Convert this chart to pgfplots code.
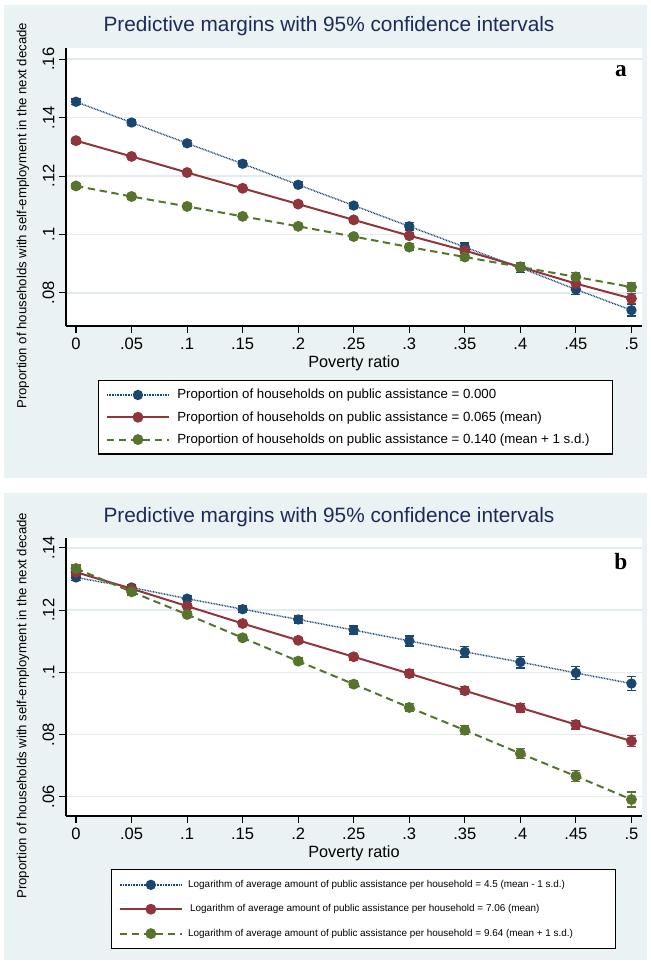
\documentclass[border=0pt]{standalone}
\usepackage{pgfplots}
\pgfplotsset{compat=1.18}
\usepackage{pgfplotstable}
\usepackage{fontspec}
\setmainfont{Liberation Sans}
\newfontfamily\serifbf{Liberation Serif}
\definecolor{bgc}{HTML}{EAF2F3}
\definecolor{gridc}{HTML}{E2EBED}
\definecolor{titlec}{HTML}{1C2B5A}
\definecolor{snavy}{HTML}{1A476F}
\definecolor{smaroon}{HTML}{90353B}
\definecolor{sgreen}{HTML}{55752F}

\pgfplotstableread{
x     blue   bE     red    rE     green  gE
0     .1454  .0010  .1321  .0008  .1166  .0009
0.05  .1383  .0009  .1267  .0007  .1130  .0008
0.1   .1312  .0009  .1212  .0007  .1096  .0008
0.15  .1242  .0009  .1158  .0007  .1062  .0008
0.2   .1170  .0010  .1104  .0008  .1028  .0008
0.25  .1099  .0011  .1050  .0009  .0993  .0009
0.3   .1028  .0013  .0996  .0010  .0957  .0010
0.35  .0957  .0014  .0945  .0011  .0923  .0011
0.4   .0886  .0015  .0889  .0012  .0889  .0013
0.45  .0812  .0018  .0832  .0014  .0855  .0015
0.5   .0741  .0020  .0781  .0017  .0820  .0016
}\tableA

\pgfplotstableread{
x     blue   bE     red    rE     green  gE
0     .1305  .0010  .1322  .0009  .1334  .0011
0.05  .1273  .0009  .1269  .0008  .1259  .0010
0.1   .1237  .0009  .1213  .0008  .1186  .0009
0.15  .1203  .0010  .1157  .0008  .1111  .0009
0.2   .1170  .0011  .1103  .0009  .1036  .0010
0.25  .1136  .0013  .1050  .0010  .0962  .0011
0.3   .1101  .0016  .0996  .0011  .0887  .0012
0.35  .1066  .0017  .0941  .0013  .0814  .0014
0.4   .1033  .0019  .0886  .0014  .0739  .0016
0.45  .0998  .0021  .0832  .0014  .0666  .0018
0.5   .0964  .0022  .0779  .0017  .0591  .0024
}\tableB

\pgfplotsset{
  statastyle/.style={
    scale only axis,
    width=432pt, height=208.5pt,
    anchor=south west,
    axis background/.style={fill=white},
    axis x line*=bottom, axis y line*=left,
    axis line style={line width=0.8pt, black, -},
    tick align=outside, major tick length=5.25pt,
    tick style={line width=0.8pt, black},
    xmin=-0.009, xmax=0.5095,
    xtick={0,0.05,0.1,0.15,0.2,0.25,0.3,0.35,0.4,0.45,0.5},
    xticklabels={0,.05,.1,.15,.2,.25,.3,.35,.4,.45,.5},
    ymajorgrids, grid style={color=gridc, line width=1pt},
    ticklabel style={font=\fontsize{12.4}{14}\selectfont},
    yticklabel style={rotate=90, anchor=south},
    title style={font=\fontsize{15.6}{18}\selectfont, color=titlec,
      at={(axis description cs:0.4566,1)}, anchor=base, yshift=6pt},
    xlabel={Poverty ratio},
    xlabel style={font=\fontsize{12.2}{14}\selectfont, at={(axis description cs:0.5,0)}, anchor=base, yshift=-31.5pt},
    ylabel={Proportion of households with self-employment in the next decade},
    ylabel style={font=\fontsize{9.9}{12}\selectfont, at={(axis description cs:-0.0747,0.397)}, anchor=center},
    legend cell align=left,
    legend image code/.code={\draw[mark repeat=2,mark phase=2,#1] plot coordinates {(0pt,0pt) (23.25pt,0pt) (46.5pt,0pt)};},
    clip=false,
  },
  eb/.style={error bars/.cd, y dir=both, y explicit,
    error bar style={line width=1pt, solid},
    error mark options={rotate=90, mark size=3.4pt, line width=1pt, solid}},
  sblue/.style={color=snavy, line width=1.1pt, dash pattern=on 0.6pt off 0.6pt, mark=*, mark size=3.3pt, mark options={solid, fill=snavy}},
  sred/.style={color=smaroon, line width=1.5pt, solid, mark=*, mark size=3.3pt, mark options={solid, fill=smaroon}},
  sgreen/.style={color=sgreen, line width=1.5pt, dash pattern=on 5.5pt off 3.5pt, mark=*, mark size=3.3pt, mark options={solid, fill=sgreen}},
}

\begin{document}
\begin{tikzpicture}[x=0.75pt,y=0.75pt]
\path[use as bounding box] (0,0) rectangle (650,964);
\fill[white] (0,0) rectangle (650,964);
\fill[bgc] (4,486) rectangle (647,959);
\fill[bgc] (4,4) rectangle (647,471);

\begin{axis}[statastyle, at={(49.5pt,478.5pt)},
  title={Predictive margins with 95\% confidence intervals},
  ymin=0.0687, ymax=0.1638,
  ytick={0.08,0.1,0.12,0.14,0.16},
  yticklabels={.08,.1,.12,.14,.16},
  legend style={at={(axis description cs:0.0556,-0.194)}, anchor=north west,
    draw=black, line width=0.9pt, fill=white, font=\fontsize{9.95}{12}\selectfont,
    inner xsep=5.5pt, inner ysep=4.5pt, row sep=4pt,
    /tikz/every odd column/.append style={column sep=3.5pt}},
]
\addplot[sblue, eb] table[x=x, y=blue, y error=bE] {\tableA};
\addlegendentry{Proportion of households on public assistance = 0.000}
\addplot[sred, eb] table[x=x, y=red, y error=rE] {\tableA};
\addlegendentry{Proportion of households on public assistance = 0.065 (mean)}
\addplot[sgreen, eb] table[x=x, y=green, y error=gE] {\tableA};
\addlegendentry{Proportion of households on public assistance = 0.140 (mean + 1 s.d.)\hspace*{10pt}}
\node[font=\serifbf\bfseries\fontsize{17.5}{20}\selectfont] at (axis description cs:0.9635,0.918) {a};
\end{axis}

\begin{axis}[statastyle, at={(49.5pt,111pt)},
  title={Predictive margins with 95\% confidence intervals},
  ymin=0.0538, ymax=0.1432,
  ytick={0.06,0.08,0.1,0.12,0.14},
  yticklabels={.06,.08,.1,.12,.14},
  xlabel style={yshift=0.75pt},
  legend style={at={(axis description cs:0.078,-0.1906)}, anchor=north west,
    draw=black, line width=0.9pt, fill=white, font=\fontsize{7.44}{9}\selectfont,
    inner xsep=5.5pt, inner ysep=6pt, row sep=7.4pt,
    /tikz/every odd column/.append style={column sep=2pt}},
]
\addplot[sblue, eb] table[x=x, y=blue, y error=bE] {\tableB};
\addlegendentry{Logarithm of average amount of public assistance per household = 4.5 (mean - 1 s.d.)}
\addplot[sred, eb] table[x=x, y=red, y error=rE] {\tableB};
\addlegendentry{\hspace*{1.5pt}Logarithm of average amount of public assistance per household = 7.06 (mean)}
\addplot[sgreen, eb] table[x=x, y=green, y error=gE] {\tableB};
\addlegendentry{Logarithm of average amount of public assistance per household = 9.64 (mean + 1 s.d.)\hspace*{24.5pt}}
\node[font=\serifbf\bfseries\fontsize{17.5}{20}\selectfont] at (axis description cs:0.9635,0.914) {b};
\end{axis}
\end{tikzpicture}
\end{document}
